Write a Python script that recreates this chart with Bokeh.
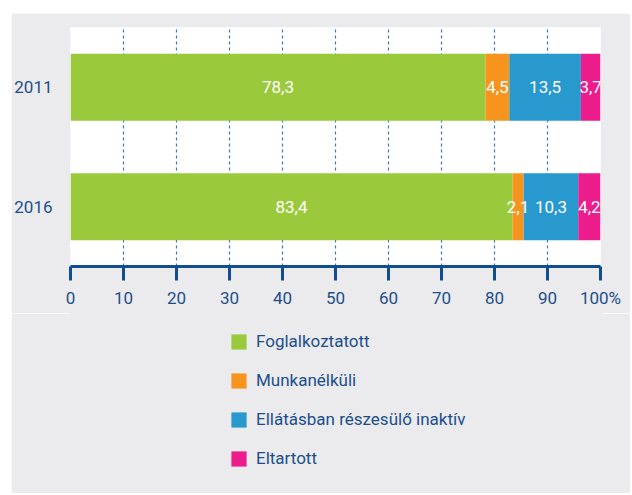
from bokeh.plotting import figure
from bokeh.models import (Range1d, FactorRange, FixedTicker, ColumnDataSource,
                          Legend, LegendItem, Spacer)
from bokeh.layouts import column, row
from bokeh.core.properties import value
from bokeh.embed import file_html
from bokeh.resources import INLINE

years = ["2011", "2016"]
series = ["Foglalkoztatott", "Munkanélküli", "Ellátásban részesülő inaktív", "Eltartott"]
foglalkoztatott = [78.3, 83.4]
munkanelkuli = [4.5, 2.1]
inaktiv = [13.5, 10.3]
eltartott = [3.7, 4.2]
x_ticks = [0, 10, 20, 30, 40, 50, 60, 70, 80, 90, 100]
x_tick_labels = ["0", "10", "20", "30", "40", "50", "60", "70", "80", "90", "100%"]

colors = ["#9aca3c", "#f7941d", "#2799cf", "#ec1c8c"]
FONT = "Roboto"
DARK = "#1b4f8c"
GRAY = "#ebebed"
FS = "17px"

p = figure(width=619, height=300, output_backend="svg", toolbar_location=None,
           x_range=Range1d(0, 100), y_range=FactorRange(factors=years[::-1], range_padding=0),
           min_border_left=57, min_border_right=30, min_border_top=14, min_border_bottom=47)
p.border_fill_color = GRAY
p.background_fill_color = "white"
p.outline_line_color = None

vals = [foglalkoztatott, munkanelkuli, inaktiv, eltartott]
left = [0.0, 0.0]
srcs = []
for name, v, c in zip(series, vals, colors):
    right = [l + x for l, x in zip(left, v)]
    src = ColumnDataSource(dict(y=years, left=left, right=right,
                                mid=[(l + r) / 2 for l, r in zip(left, right)],
                                lab=[f"{x:.1f}".replace(".", ",") for x in v]))
    p.hbar(y="y", left="left", right="right", height=0.56, source=src,
           fill_color=c, line_color=None)
    srcs.append(src)
    left = right

for src in srcs:
    p.text(x="mid", y="y", text="lab", source=src, text_color="white",
           text_font=value(FONT), text_font_size="17px", text_align="center",
           text_baseline="middle")

xa = p.xaxis[0]
xa.ticker = FixedTicker(ticks=x_ticks)
xa.major_label_overrides = {t: l for t, l in zip(x_ticks, x_tick_labels)}
xa.axis_line_color = "#0e4e91"
xa.axis_line_width = 3
xa.major_tick_line_color = "#0e4e91"
xa.major_tick_line_width = 3
xa.major_tick_out = 14
xa.major_tick_in = 0
xa.minor_tick_line_color = None
xa.major_label_text_font = FONT
xa.major_label_text_font_size = FS
xa.major_label_text_color = DARK
xa.major_label_standoff = 7

ya = p.yaxis[0]
ya.axis_line_color = None
ya.major_tick_line_color = None
ya.minor_tick_line_color = None
ya.major_label_text_font = FONT
ya.major_label_text_font_size = FS
ya.major_label_text_color = DARK
ya.major_label_standoff = 12

p.ygrid.grid_line_color = None
p.xgrid.ticker = FixedTicker(ticks=x_ticks[1:-1])
p.xgrid.grid_line_color = "#3f78b5"
p.xgrid.grid_line_dash = "3 3"
p.xgrid.grid_line_width = 1.2

# legend panel (zero-height bars carry the legend swatches)
lg = figure(width=619, height=180, output_backend="svg", toolbar_location=None,
            x_range=Range1d(0, 100), y_range=FactorRange(factors=years[::-1]),
            min_border_left=57, min_border_right=30, min_border_top=0, min_border_bottom=0)
lg.axis.visible = False
lg.grid.visible = False
lg.outline_line_color = GRAY
lg.outline_line_width = 4
lg.border_fill_color = GRAY
lg.background_fill_color = GRAY
items = []
for name, c, src in zip(series, colors, srcs):
    r = lg.hbar(y="y", left="left", right="right", height=0, source=src,
                fill_color=c, line_color=None)
    items.append(LegendItem(label=name, renderers=[r]))
legend = Legend(items=items, location=(159, 25), orientation="vertical",
                glyph_width=19, glyph_height=19, label_standoff=8, spacing=19,
                padding=0, margin=0, label_text_font=FONT,
                label_text_font_size=FS, label_text_color=DARK,
                background_fill_alpha=0, border_line_color=None)
lg.add_layout(legend, "center")

layout = column(Spacer(height=13), row(Spacer(width=11), column(p, lg)))
open("out.html", "w").write(file_html(layout, INLINE))
